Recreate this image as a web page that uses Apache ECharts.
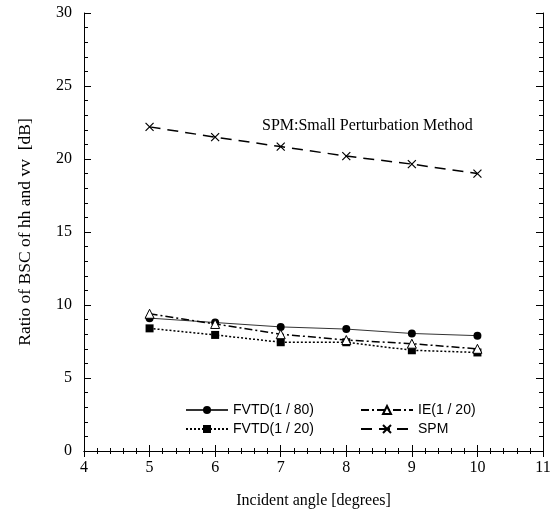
<!DOCTYPE html>
<html><head><meta charset="utf-8">
<script src="https://cdn.jsdelivr.net/npm/echarts@6/dist/echarts.min.js"></script>
<style>html,body{margin:0;padding:0;background:#fff}#c{width:553px;height:509px}</style>
</head><body><div id="c"></div>
<script>
const angles = [5, 6, 7, 8, 9, 10];
const fvtd80 = [9.1, 8.8, 8.5, 8.35, 8.05, 7.9];
const fvtd20 = [8.4, 7.95, 7.45, 7.45, 6.9, 6.75];
const ie20 = [9.4, 8.7, 8.0, 7.6, 7.35, 7.0];
const spm = [22.2, 21.5, 20.85, 20.2, 19.65, 19.0];
const names = ['FVTD(1 / 80)', 'FVTD(1 / 20)', 'IE(1 / 20)', 'SPM'];
const xTicks = [4, 5, 6, 7, 8, 9, 10, 11];
const yTicks = [0, 5, 10, 15, 20, 25, 30];

const serif = '"Liberation Serif","Times New Roman",serif';
const sans = '"Liberation Sans",Arial,sans-serif';
const pair = (ys) => angles.map((a, i) => [a, ys[i]]);

const axLine = { show: true, lineStyle: { color: '#000', width: 1 } };
function xAx(pos, labels) {
  return {
    type: 'value', position: pos, min: xTicks[0], max: xTicks[xTicks.length - 1], interval: 1,
    axisLine: axLine,
    axisTick: { show: true, inside: true, length: 6, lineStyle: { color: '#000' } },
    minorTick: { show: true, splitNumber: 5, length: 3, lineStyle: { color: '#000' } },
    splitLine: { show: false },
    axisLabel: { show: labels, margin: 9, color: '#000', fontFamily: serif, fontSize: 16 },
    name: labels ? 'Incident angle [degrees]' : '',
    nameLocation: 'middle', nameGap: 42,
    nameTextStyle: { color: '#000', fontFamily: serif, fontSize: 16 }
  };
}
function yAx(pos, labels) {
  return {
    type: 'value', position: pos, min: yTicks[0], max: yTicks[yTicks.length - 1], interval: 5,
    axisLine: axLine,
    axisTick: { show: true, inside: true, length: 7, lineStyle: { color: '#000' } },
    minorTick: { show: true, splitNumber: 5, length: 4, lineStyle: { color: '#000' } },
    splitLine: { show: false },
    axisLabel: { show: labels, margin: 12, color: '#000', fontFamily: serif, fontSize: 16 },
    name: labels ? 'Ratio of BSC of hh and vv  [dB]' : '',
    nameLocation: 'middle', nameGap: 50,
    nameTextStyle: { color: '#000', fontFamily: serif, fontSize: 17.5 }
  };
}

const chart = echarts.init(document.getElementById('c'), null, { renderer: 'canvas' });
chart.setOption({
  animation: false,
  backgroundColor: '#fff',
  grid: { left: 84, top: 13, right: 10, bottom: 58, containLabel: false, outerBoundsMode: 'none' },
  xAxis: [xAx('bottom', true), xAx('top', false)],
  yAxis: [yAx('left', true), yAx('right', false)],
  legend: [
    { data: [names[0], names[1]], orient: 'vertical', left: 180, top: 398, itemWidth: 42, itemHeight: 10, itemGap: 5,
      textStyle: { fontFamily: sans, fontSize: 14, color: '#000' } },
    { data: [names[2], names[3]], orient: 'vertical', left: 355, top: 398, itemWidth: 52, itemHeight: 10, itemGap: 5,
      textStyle: { fontFamily: sans, fontSize: 14, color: '#000' } }
  ],
  graphic: [{
    type: 'text', left: 262, top: 118,
    style: { text: 'SPM:Small Perturbation Method', font: '16px ' + serif, fill: '#000' }
  }],
  series: [
    { name: names[0], type: 'line', data: pair(fvtd80), symbol: 'circle', symbolSize: 8,
      lineStyle: { color: '#333', width: 1, type: 'solid' }, itemStyle: { color: '#000' } },
    { name: names[1], type: 'line', data: pair(fvtd20), symbol: 'rect', symbolSize: 8,
      lineStyle: { color: '#000', width: 1.5, type: [2, 2] }, itemStyle: { color: '#000' } },
    { name: names[2], type: 'line', data: pair(ie20), symbol: 'triangle', symbolSize: 9,
      lineStyle: { color: '#000', width: 1.5, type: [8, 3, 2, 3] },
      itemStyle: { color: '#fff', borderColor: '#000', borderWidth: 1 } },
    { name: names[3], type: 'line', data: pair(spm), symbol: 'path://M0,0L10,10M10,0L0,10', symbolSize: 8,
      lineStyle: { color: '#000', width: 1.5, type: [11, 7] },
      itemStyle: { color: 'none', borderColor: '#000', borderWidth: 1.2 } }
  ]
});
</script></body></html>
